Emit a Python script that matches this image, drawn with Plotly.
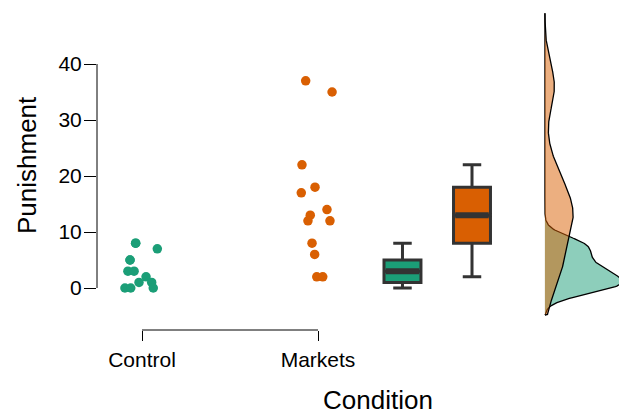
import numpy as np
import plotly.graph_objects as go

# ---- data -------------------------------------------------------------
conditions = ["Control", "Markets"]
control_punishment = [8, 8, 7, 5, 5, 3, 3, 2, 1, 1, 0, 0, 0]
markets_punishment = [37, 35, 22, 18, 17, 14, 13, 12, 12, 8, 6, 2, 2]

# horizontal jitter of each raw observation (category units)
control_jitter = [-0.036, -0.036, 0.087, -0.068, -0.068, -0.080, -0.045,
                  0.023, 0.055, -0.017, -0.097, -0.064, 0.064]
markets_jitter = [-0.070, 0.080, -0.091, -0.017, -0.095, 0.051, -0.044,
                  -0.057, 0.068, -0.034, -0.019, -0.007, 0.027]

y_ticks = [0, 10, 20, 30, 40]

# ---- styling / layout constants ----------------------------------------
COLORS = ["#1b9e77", "#d95f02"]
FILLS = ["rgba(27,158,119,0.5)", "rgba(217,95,2,0.5)"]
BOX_POS = [2.48, 2.875]          # boxplot positions on the category axis
BOX_WIDTH = 0.21
DENSITY_CUT = 3                  # densities reach 3 bandwidths past the data
DENSITY_AXIS_MAX = 0.116
FONT = "Liberation Sans, Arial, Helvetica, sans-serif"

W, H = 619, 415
ML, MR, MT, MB = 97, 0, 13, 85
plot_w = W - ML - MR
plot_h = H - MT - MB
split = (543 - ML) / plot_w        # where the density panel starts

# category axis: 176 px per category step, first category 45 px in
px_per_cat = 176.0
x_lo = 1 - (142 - ML) / px_per_cat
x_hi = x_lo + split * plot_w / px_per_cat
# value axis: 5.6 px per unit, zero 42 px above the bottom edge
px_per_unit = 5.6
y_lo = -42 / px_per_unit
y_hi = y_lo + plot_h / px_per_unit


def bw_nrd0(v):
    v = np.asarray(v, float)
    iqr = np.subtract(*np.percentile(v, [75, 25]))
    return 0.9 * min(v.std(ddof=1), iqr / 1.34) * len(v) ** -0.2


def gaussian_kde(v, grid):
    v = np.asarray(v, float)
    bw = bw_nrd0(v)
    z = (grid[:, None] - v[None, :]) / bw
    return np.exp(-0.5 * z ** 2).sum(axis=1) / (len(v) * bw * np.sqrt(2 * np.pi))


def box_stats(v):
    v = np.asarray(v, float)
    q1, med, q3 = np.percentile(v, [25, 50, 75])
    iqr = q3 - q1
    lf = v[v >= q1 - 1.5 * iqr].min()
    uf = v[v <= q3 + 1.5 * iqr].max()
    return q1, med, q3, lf, uf


groups = [control_punishment, markets_punishment]
jitters = [control_jitter, markets_jitter]

fig = go.Figure()

# raw observations (the "rain")
for i, (vals, jit) in enumerate(zip(groups, jitters)):
    fig.add_trace(go.Scatter(
        x=[i + 1 + j for j in jit], y=vals, mode="markers",
        marker=dict(color=COLORS[i], size=9.5, line=dict(width=0)),
        showlegend=False, hoverinfo="skip", xaxis="x", yaxis="y"))

# boxplots
for i, vals in enumerate(groups):
    q1, med, q3, lf, uf = box_stats(vals)
    fig.add_trace(go.Box(
        x=[BOX_POS[i]], q1=[q1], median=[med], q3=[q3],
        lowerfence=[lf], upperfence=[uf], width=BOX_WIDTH,
        whiskerwidth=0.5, fillcolor=COLORS[i],
        line=dict(color="#333333", width=3),
        boxpoints=False, showlegend=False, hoverinfo="skip",
        xaxis="x", yaxis="y"))
    # heavier median bar
    fig.add_trace(go.Scatter(
        x=[BOX_POS[i] - BOX_WIDTH / 2 + 0.01, BOX_POS[i] + BOX_WIDTH / 2 - 0.01],
        y=[med, med], mode="lines",
        line=dict(color="#333333", width=6),
        showlegend=False, hoverinfo="skip", xaxis="x", yaxis="y"))

# half-densities (the "cloud"), evaluated on a shared grid
bws = [bw_nrd0(v) for v in groups]
span_lo = max(min(v) - DENSITY_CUT * b for v, b in zip(groups, bws))
span_hi = max(max(v) + DENSITY_CUT * b for v, b in zip(groups, bws))
grid = np.linspace(span_lo, span_hi, 512)
for i, vals in enumerate(groups):
    d = gaussian_kde(vals, grid)
    fig.add_trace(go.Scatter(
        x=np.concatenate([[0], d, [0]]),
        y=np.concatenate([[grid[0]], grid, [grid[-1]]]),
        mode="lines", fill="toself", fillcolor=FILLS[i],
        line=dict(color="black", width=1.3),
        showlegend=False, hoverinfo="skip", xaxis="x2", yaxis="y"))

axis_font = dict(family=FONT, size=21, color="black")

fig.update_layout(
    width=W, height=H,
    margin=dict(l=ML, r=MR, t=MT, b=MB, pad=0),
    paper_bgcolor="white", plot_bgcolor="white",
    font=dict(family=FONT, color="black"),
    xaxis=dict(domain=[0, split], range=[x_lo, x_hi],
               tickvals=[1, 2], ticktext=conditions,
               ticks="outside", ticklen=10, tickwidth=1, tickcolor="black",
               tickfont=axis_font, showline=False, showgrid=False,
               zeroline=False, ticklabelstandoff=1),
    xaxis2=dict(domain=[split, 1], range=[-0.003, DENSITY_AXIS_MAX],
                anchor="y", visible=False),
    yaxis=dict(range=[y_lo, y_hi], tickvals=y_ticks,
               ticks="outside", ticklen=12, tickwidth=1, tickcolor="black",
               tickfont=axis_font, showline=False, showgrid=False,
               zeroline=False, ticklabelstandoff=-2),
    shapes=[
        dict(type="line", xref="x", yref="paper", x0=1, x1=2, y0=0, y1=0,
             line=dict(color="black", width=1)),
        dict(type="line", xref="paper", yref="y", x0=0, x1=0,
             y0=y_ticks[0], y1=y_ticks[-1],
             line=dict(color="black", width=1)),
    ],
    annotations=[
        dict(text="Punishment", textangle=-90, showarrow=False,
             xref="paper", yref="paper",
             x=(27 - ML) / plot_w, y=(MT + plot_h - 165) / plot_h,
             xanchor="center", yanchor="middle",
             font=dict(family=FONT, size=26, color="black")),
        dict(text="Condition", showarrow=False,
             xref="paper", yref="paper",
             x=(378 - ML) / plot_w, y=(MT + plot_h - 400) / plot_h,
             xanchor="center", yanchor="middle",
             font=dict(family=FONT, size=26, color="black")),
    ],
)

fig.write_html("out.html")
